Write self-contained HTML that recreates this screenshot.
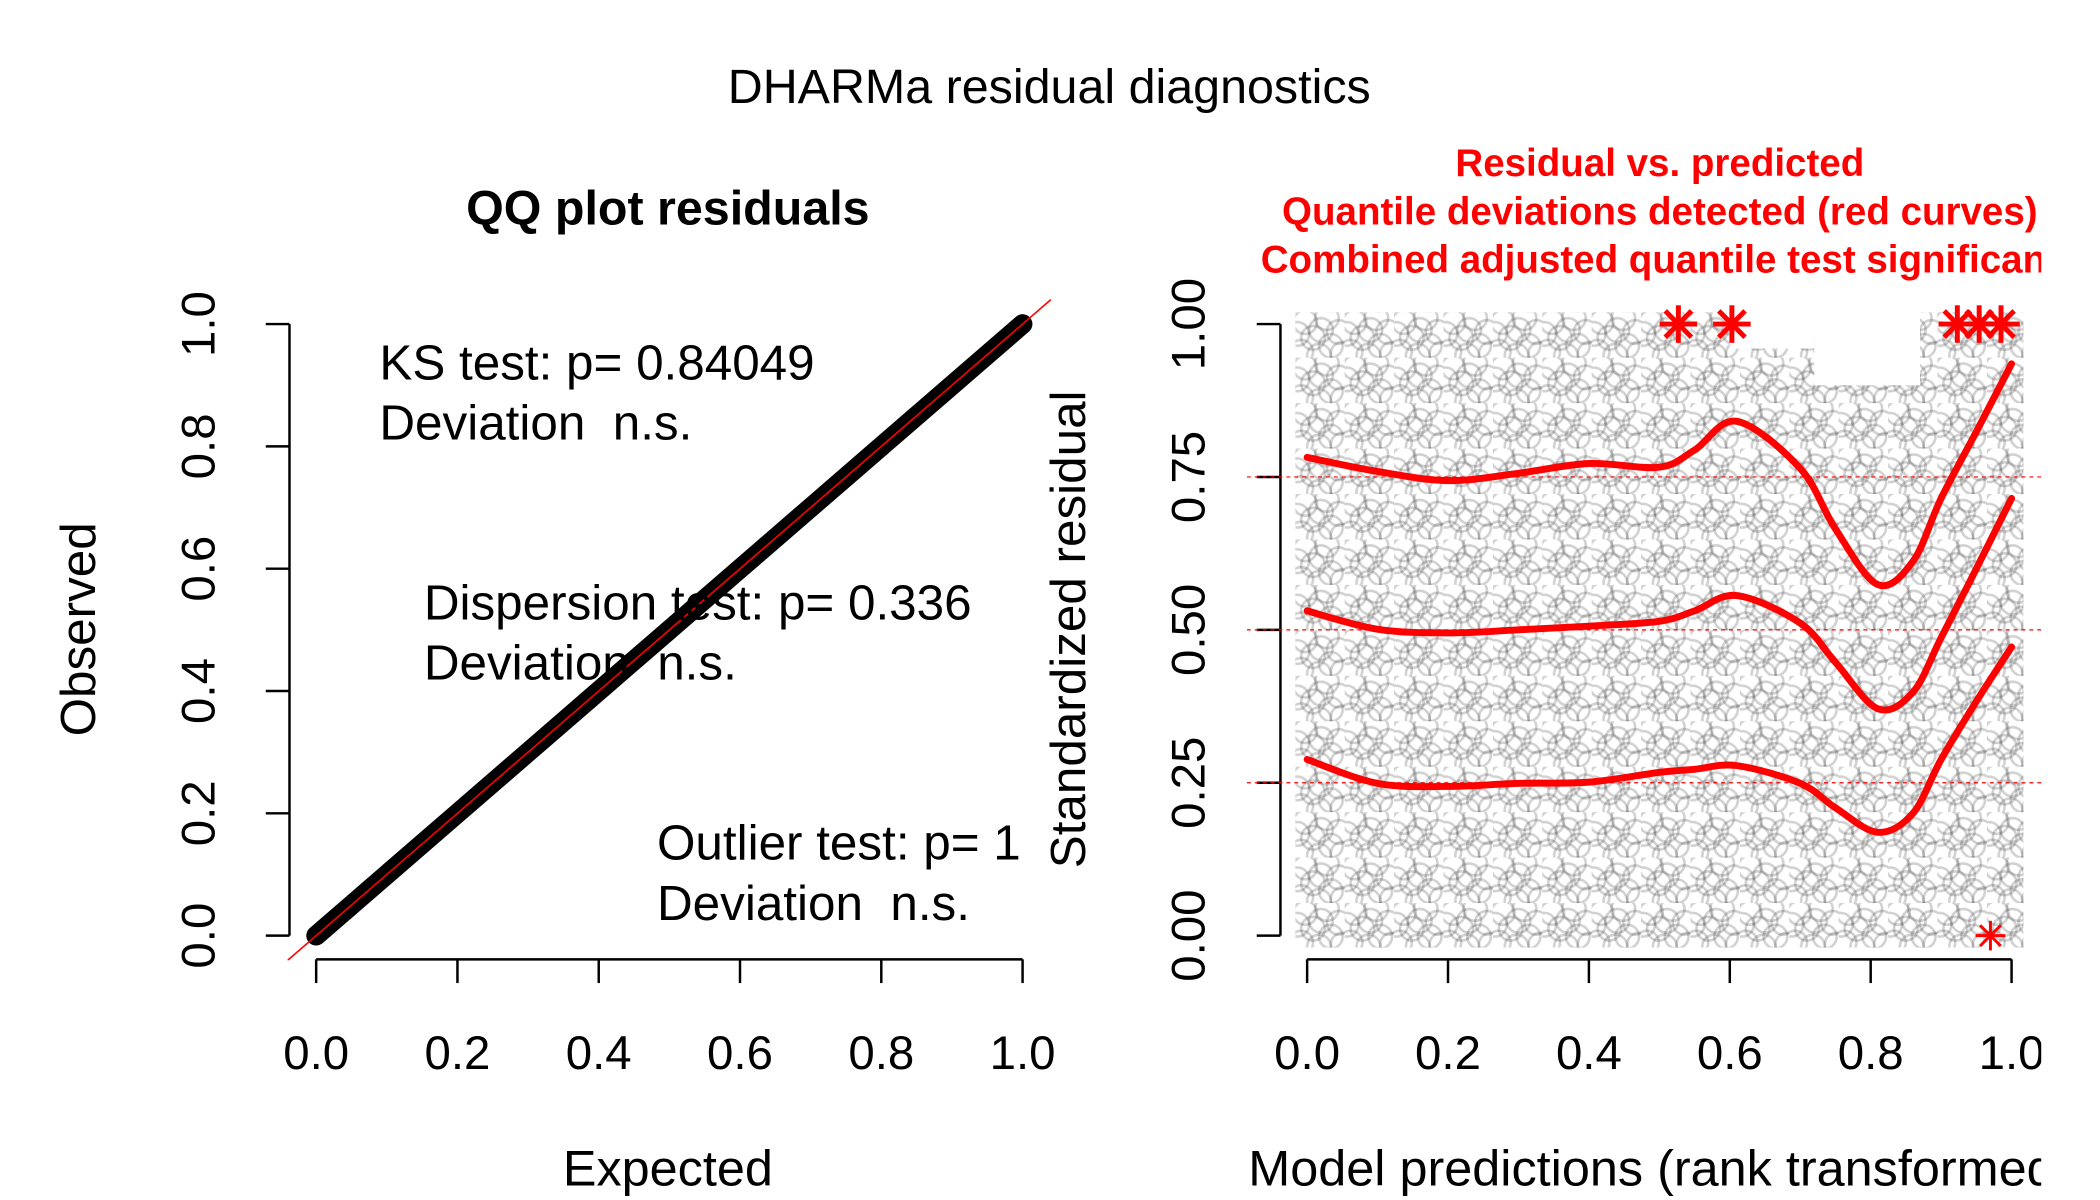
<!DOCTYPE html>
<html><head><meta charset="utf-8"><style>
html,body{margin:0;padding:0;background:#fff;}
svg{display:block;font-family:"Liberation Sans",Arial,sans-serif;}
</style></head><body>
<svg id="chart" width="2100" height="1200" viewBox="0 0 2100 1200" xmlns="http://www.w3.org/2000/svg">
<defs>
<clipPath id="clipL"><rect x="291" y="303" width="773" height="669"/></clipPath>
<clipPath id="clipRfig"><rect x="0" y="0" width="2066" height="1220"/></clipPath>
<clipPath id="clipR"><rect x="1262" y="303" width="804" height="669"/></clipPath>
<pattern id="cloud" x="1311" y="316" width="50" height="46" patternUnits="userSpaceOnUse">
<g fill="none" stroke="rgba(0,0,0,0.18)" stroke-width="2.6">
<circle cx="10" cy="10" r="12"/><circle cx="32" cy="6" r="12"/><circle cx="44" cy="20" r="12"/>
<circle cx="18" cy="26" r="12"/><circle cx="36" cy="34" r="12"/><circle cx="6" cy="40" r="12"/>
<circle cx="24" cy="44" r="12"/><circle cx="48" cy="42" r="12"/><circle cx="26" cy="18" r="12"/>
<circle cx="2" cy="22" r="12"/>
</g></pattern>
</defs>
<g transform="scale(0.988)">
<text x="1062" y="104" font-size="49" text-anchor="middle">DHARMa residual diagnostics</text>
<g id="left"></g>
<g id="right" clip-path="url(#clipRfig)"></g>
</g>
</svg>
<script>
// QQ data
const qqExpected = [0, 0.1, 0.2, 0.3, 0.4, 0.5, 0.6, 0.7, 0.8, 0.9, 1];
const qqObserved = [0, 0.1, 0.2, 0.3, 0.4, 0.5, 0.6, 0.7, 0.8, 0.9, 1];
const ticksLeft = ["0.0","0.2","0.4","0.6","0.8","1.0"];
// Residual plot data
const quantX = [0,0.1,0.2,0.3,0.4,0.5,0.55,0.61,0.7,0.75,0.81,0.86,0.9,0.95,1.0];
const q75 = [0.782,0.759,0.744,0.756,0.772,0.766,0.794,0.841,0.764,0.665,0.574,0.612,0.715,0.824,0.935];
const q50 = [0.531,0.501,0.495,0.500,0.506,0.514,0.531,0.556,0.511,0.447,0.371,0.398,0.487,0.600,0.715];
const q25 = [0.288,0.249,0.244,0.249,0.251,0.267,0.272,0.278,0.249,0.209,0.169,0.200,0.288,0.383,0.472];
const outlierX = [0.527,0.603,0.923,0.954,0.985,0.970];
const outlierY = [1,1,1,1,1,0];
const ticksRightY = ["0.00","0.25","0.50","0.75","1.00"];
const ticksRightX = ["0.0","0.2","0.4","0.6","0.8","1.0"];

const NS="http://www.w3.org/2000/svg";
function mk(tag, attrs, parent, txt){const e=document.createElementNS(NS,tag);for(const k in attrs)e.setAttribute(k,attrs[k]);if(txt!==undefined)e.textContent=txt;parent.appendChild(e);return e;}
const L=document.getElementById('left'), R=document.getElementById('right');
const lx=v=>320+v*715, ly=v=>947-v*619;
const rx=v=>1323+v*713, ry=v=>947-v*619;

// ---- Left plot ----
let e;
e=mk('text',{x:676,y:227,'font-size':49,'font-weight':'bold','text-anchor':'middle'},L,'QQ plot residuals');


e=mk('line',{x1:293,y1:ly(0),x2:293,y2:ly(1),stroke:'#000','stroke-width':2.5},L);


e=mk('line',{x1:lx(0),y1:971,x2:lx(1),y2:971,stroke:'#000','stroke-width':2.5},L);


ticksLeft.forEach((t,i)=>{const v=i/5;
 mk('line',{x1:293,y1:ly(v),x2:269,y2:ly(v),stroke:'#000','stroke-width':2.5},L);
 e=mk('text',{x:0,y:0,'font-size':48,'text-anchor':'middle',transform:`translate(217,${ly(v)}) rotate(-90)`},L,t);
 
 
 mk('line',{x1:lx(v),y1:971,x2:lx(v),y2:995,stroke:'#000','stroke-width':2.5},L);
 e=mk('text',{x:lx(v),y:1082,'font-size':48,'text-anchor':'middle'},L,t);
 
 
});
e=mk('text',{x:0,y:0,'font-size':50,'text-anchor':'middle',transform:'translate(96,637) rotate(-90)'},L,'Observed');


e=mk('text',{x:676,y:1200,'font-size':51,'text-anchor':'middle'},L,'Expected');


const gL=mk('g',{'clip-path':'url(#clipL)'},L);
e=mk('polyline',{points:qqExpected.map((v,i)=>lx(v)+','+ly(qqObserved[i])).join(' '),fill:'none',stroke:'#000','stroke-width':20,'stroke-linecap':'round'},gL);


e=mk('line',{x1:lx(-0.1),y1:ly(-0.1),x2:lx(1.1),y2:ly(1.1),stroke:'#f00','stroke-width':1.6},gL);


[["KS test: p= 0.84049",384,384],["Deviation  n.s.",384,445],["Dispersion test: p= 0.336",429,627],["Deviation  n.s.",429,688],["Outlier test: p= 1",665,870],["Deviation  n.s.",665,931]].forEach(a=>{
 e=mk('text',{x:a[1],y:a[2],'font-size':50,style:'white-space:pre'},L,a[0]);
 
 
});

// ---- Right plot ----
["Residual vs. predicted","Quantile deviations detected (red curves)","Combined adjusted quantile test significant"].forEach((t,i)=>{
 e=mk('text',{x:1680,y:178+i*49,'font-size':39,'font-weight':'bold',fill:'#f00','text-anchor':'middle'},R,t);
 
 
});
e=mk('rect',{x:1311,y:316,width:737,height:643,fill:'url(#cloud)'},R);


mk('rect',{x:rx(0.72),y:300,width:rx(0.87)-rx(0.72),height:ry(0.9)-300,fill:'#fff'},R);
mk('rect',{x:rx(0.6),y:300,width:rx(0.72)-rx(0.6),height:ry(0.96)-300,fill:'#fff'},R);
e=mk('line',{x1:1296,y1:ry(0),x2:1296,y2:ry(1),stroke:'#000','stroke-width':2.5},R);


e=mk('line',{x1:rx(0),y1:971,x2:rx(1),y2:971,stroke:'#000','stroke-width':2.5},R);


ticksRightY.forEach((t,i)=>{const v=i/4;
 mk('line',{x1:1296,y1:ry(v),x2:1272,y2:ry(v),stroke:'#000','stroke-width':2.5},R);
 e=mk('text',{x:0,y:0,'font-size':48,'text-anchor':'middle',transform:`translate(1219,${ry(v)}) rotate(-90)`},R,t);
 
 
});
ticksRightX.forEach((t,i)=>{const v=i/5;
 mk('line',{x1:rx(v),y1:971,x2:rx(v),y2:995,stroke:'#000','stroke-width':2.5},R);
 e=mk('text',{x:rx(v),y:1082,'font-size':48,'text-anchor':'middle'},R,t);
 
 
});
e=mk('text',{x:0,y:0,'font-size':50,'text-anchor':'middle',transform:'translate(1098,637) rotate(-90)'},R,'Standardized residual');


e=mk('text',{x:1680,y:1200,'font-size':51,'text-anchor':'middle'},R,'Model predictions (rank transformed)');


const gR=mk('g',{'clip-path':'url(#clipR)'},R);
[0.25,0.5,0.75].forEach(v=>{
 e=mk('line',{x1:1262,y1:ry(v),x2:2066,y2:ry(v),stroke:'#f00','stroke-width':1.2,'stroke-dasharray':'4,4'},gR);
 
 
});
function smooth(xs,ys){const p=xs.map((x,i)=>[rx(x),ry(ys[i])]);let d='M'+p[0][0]+','+p[0][1];
 for(let i=0;i<p.length-1;i++){const p0=p[Math.max(0,i-1)],p1=p[i],p2=p[i+1],p3=p[Math.min(p.length-1,i+2)];
  d+=` C${p1[0]+(p2[0]-p0[0])/6},${p1[1]+(p2[1]-p0[1])/6} ${p2[0]-(p3[0]-p1[0])/6},${p2[1]-(p3[1]-p1[1])/6} ${p2[0]},${p2[1]}`;}
 return d;}
[q75,q50,q25].forEach(q=>{
 e=mk('path',{d:smooth(quantX,q),fill:'none',stroke:'#f00','stroke-width':7,'stroke-linecap':'round','stroke-linejoin':'round'},gR);
 
 
});
outlierX.forEach((x,i)=>{
 const cx=rx(x),cy=ry(outlierY[i]),r=outlierY[i]?19:15;const g=mk('g',{stroke:'#f00','stroke-width':outlierY[i]?5:3},R);
 
 
 mk('line',{x1:cx,y1:cy-r,x2:cx,y2:cy+r},g);mk('line',{x1:cx-r,y1:cy,x2:cx+r,y2:cy},g);
 mk('line',{x1:cx-r*.7,y1:cy-r*.7,x2:cx+r*.7,y2:cy+r*.7},g);mk('line',{x1:cx-r*.7,y1:cy+r*.7,x2:cx+r*.7,y2:cy-r*.7},g);
});
</script>
</body></html>
